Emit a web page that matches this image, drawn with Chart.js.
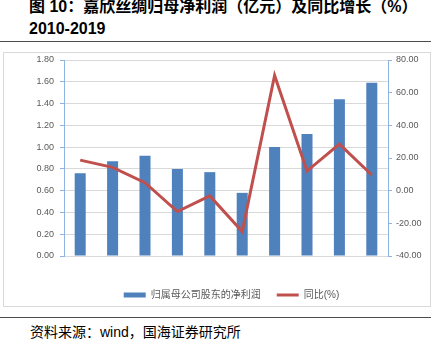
<!DOCTYPE html>
<html>
<head>
<meta charset="utf-8">
<script src="https://cdn.jsdelivr.net/npm/chart.js@4"></script>
<style>
    body { margin: 0; background: #fff; }
    #page { position: relative; width: 437px; height: 353px; overflow: hidden; font-family: 'Liberation Sans', 'Noto Sans CJK SC', sans-serif; }
    #title { position: absolute; left: 29px; top: -4px; font-size: 16px; font-weight: bold; line-height: 22px; color: #000; white-space: nowrap; }
    .rule { position: absolute; left: 0; width: 431px; height: 0; border-top: 1.5px solid #4d4d4d; }
    #frame { position: absolute; left: 3px; top: 52px; width: 428px; height: 255px; border: 1px solid #d9d9d9; box-sizing: border-box; }
    #chart-wrap { position: absolute; left: 0; top: 44px; width: 437px; height: 270px; }
    #source { position: absolute; left: 30px; top: 322px; font-size: 14px; line-height: 20px; color: #000; white-space: nowrap; }
</style>
</head>
<body>
<div id="page">
    <div id="title">图 10：嘉欣丝绸归母净利润（亿元）及同比增长（%）<br>2010-2019</div>
    <div class="rule" style="top:41px"></div>
    <div id="frame"></div>
    <div id="chart-wrap"><canvas id="profitChart" width="437" height="270"></canvas></div>
    <div class="rule" style="top:317px"></div>
    <div id="source">资料来源：wind，国海证券研究所</div>
</div>

<script>
// 年份
const years = ['2010', '2011', '2012', '2013', '2014', '2015', '2016', '2017', '2018', '2019'];
// 归属母公司股东的净利润（亿元）
const netProfit = [0.76, 0.87, 0.92, 0.80, 0.77, 0.58, 1.00, 1.12, 1.44, 1.59];
// 同比（%）
const yoyGrowth = [18.7, 14.3, 4.9, -12.8, -3.2, -25.0, 70.5, 12.0, 28.5, 9.6];

const seriesNames = ['归属母公司股东的净利润', '同比(%)'];
const leftTicks = { min: 0, max: 1.8, step: 0.2 };
const rightTicks = { min: -40, max: 80, step: 20 };

const BAR_COLOR = '#4f81bd';
const LINE_COLOR = '#c0504d';
const AXIS_COLOR = '#8eb4e3';
const GRID_COLOR = '#d9d9d9';
const TEXT_COLOR = '#595959';
const FONT = "'Liberation Sans', 'Noto Sans CJK SC', sans-serif";

const ctx = document.getElementById('profitChart').getContext('2d');
new Chart(ctx, {
    data: {
        labels: years,
        datasets: [
            {
                type: 'bar',
                label: seriesNames[0],
                data: netProfit,
                yAxisID: 'y',
                backgroundColor: BAR_COLOR,
                borderWidth: 0,
                categoryPercentage: 1,
                barPercentage: 0.34,
                order: 1
            },
            {
                type: 'line',
                label: seriesNames[1],
                data: yoyGrowth,
                yAxisID: 'y1',
                borderColor: LINE_COLOR,
                borderWidth: 3,
                tension: 0,
                pointRadius: 0,
                fill: false,
                order: 0
            }
        ]
    },
    options: {
        responsive: false,
        animation: false,
        devicePixelRatio: 1,
        layout: { padding: { left: 26, right: 0, top: 16, bottom: 4 } },
        plugins: {
            tooltip: { enabled: false },
            legend: {
                position: 'bottom',
                labels: {
                    usePointStyle: true,
                    pointStyleWidth: 22,
                    boxHeight: 5,
                    padding: 16,
                    color: TEXT_COLOR,
                    font: { family: FONT, size: 10 },
                    generateLabels: () => [
                        { text: seriesNames[0], fillStyle: BAR_COLOR, strokeStyle: BAR_COLOR, lineWidth: 0, pointStyle: 'rect', fontColor: TEXT_COLOR, datasetIndex: 0 },
                        { text: seriesNames[1], fillStyle: LINE_COLOR, strokeStyle: LINE_COLOR, lineWidth: 3, pointStyle: 'line', fontColor: TEXT_COLOR, datasetIndex: 1 }
                    ]
                }
            }
        },
        scales: {
            x: {
                grid: { display: false },
                border: { display: false },
                ticks: { color: TEXT_COLOR, font: { family: FONT, size: 9 }, padding: 11, maxRotation: 0 },
                afterFit: s => { s.height = 18; }
            },
            y: {
                position: 'left',
                min: leftTicks.min,
                max: leftTicks.max,
                grid: { color: GRID_COLOR, tickColor: AXIS_COLOR, tickLength: 4 },
                border: { color: AXIS_COLOR },
                ticks: {
                    stepSize: leftTicks.step,
                    padding: 6,
                    color: TEXT_COLOR,
                    font: { family: FONT, size: 9 },
                    callback: v => Number(v).toFixed(2)
                },
                afterFit: s => { s.width = 38; }
            },
            y1: {
                position: 'right',
                min: rightTicks.min,
                max: rightTicks.max,
                grid: { drawOnChartArea: false, tickColor: AXIS_COLOR, tickLength: 4 },
                border: { color: AXIS_COLOR },
                ticks: {
                    stepSize: rightTicks.step,
                    padding: 4,
                    color: TEXT_COLOR,
                    font: { family: FONT, size: 9 },
                    callback: v => Number(v).toFixed(2)
                },
                afterFit: s => { s.width = 49; }
            }
        }
    }
});
</script>
</body>
</html>
